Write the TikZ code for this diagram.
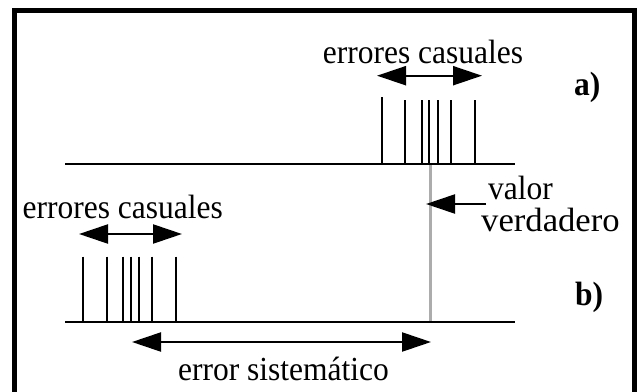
\documentclass[tikz,border=0pt]{standalone}
\usepackage{fontspec}
\usepackage{graphicx}
\setmainfont{Liberation Serif}
\usetikzlibrary{arrows.meta}
\newcommand{\tallt}[1]{\scalebox{1}[1.07]{#1}}
\tikzset{
  lbl/.style={inner sep=0pt, anchor=base, font=\fontsize{31.5}{34}\selectfont},
  tag/.style={inner sep=0pt, anchor=base west, font=\fontsize{31.5}{34}\selectfont\bfseries},
  dbl/.style={line width=2.2pt, {Triangle[length=29pt,width=19pt]}-{Triangle[length=29pt,width=19pt]}},
  sgl/.style={line width=2.2pt, -{Triangle[length=29pt,width=19pt]}},
  tick/.style={line width=2.3pt},
  axis/.style={line width=2.3pt},
  truth/.style={line width=3pt, gray!65}
}
\begin{document}
\begin{tikzpicture}[x=1pt,y=-1pt]
\useasboundingbox (0,0) rectangle (642,391);
\fill[white] (0,0) rectangle (642,391);
% frame
\draw[line width=5pt] (14.5,410) -- (14.5,10.5) -- (634.5,10.5) -- (634.5,410);

% true value line
\coordinate (tvTop) at (430,164);
\coordinate (tvBot) at (430,322);
\draw[truth] (tvTop) -- (tvBot);

% axes
\coordinate (aL) at (65,164); \coordinate (aR) at (515,164);
\coordinate (bL) at (65,322); \coordinate (bR) at (515,322);
\draw[axis] (aL) -- (aR);
\draw[axis] (bL) -- (bR);

% ticks a
\draw[tick] (382,97) -- (382,164);
\foreach \x in {405,421.7,429.3,437.7,451,475}{\draw[tick] (\x,100) -- (\x,164);}
% ticks b
\foreach \x in {82.7,106.7,122.7,130.7,138.7,152,176}{\draw[tick] (\x,256.7) -- (\x,322);}

% labels a
\node[lbl] (ecA) at (423,63) {\tallt{errores casuales}};
\coordinate (aA1) at (377,75.7); \coordinate (aA2) at (482,75.7);
\draw[dbl] (aA1) -- (aA2);
\node[tag] (labA) at (574,95) {\tallt{a)}};

% labels b
\node[lbl] (ecB) at (122.7,218) {\tallt{errores casuales}};
\coordinate (aB1) at (79,234); \coordinate (aB2) at (182,234);
\draw[dbl] (aB1) -- (aB2);
\node[tag] (labB) at (575,305) {\tallt{b)}};

% valor verdadero
\node[lbl, anchor=base west] (valor) at (488,199) {\tallt{valor}};
\node[lbl, anchor=base west] (verd) at (481,231) {\scalebox{1.1}[1.07]{verdadero}};
\coordinate (vArr) at (486,204);
\coordinate (vTip) at (426,204);
\draw[sgl] (vArr) -- (vTip);

% error sistematico
\coordinate (es1) at (132,342); \coordinate (es2) at (431,342);
\draw[dbl] (es1) -- (es2);
\node[lbl] (esT) at (283.5,380) {\tallt{error sistemático}};
\end{tikzpicture}
\end{document}
